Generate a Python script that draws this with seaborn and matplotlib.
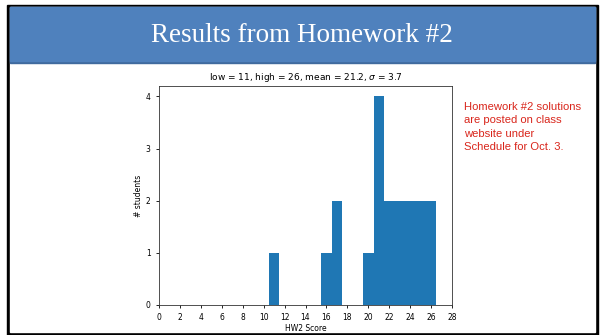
import matplotlib.pyplot as plt
from matplotlib.patches import Rectangle
import seaborn as sns

# HW2 scores, one per student
scores = [11, 16, 17, 17, 20, 21, 21, 21, 21, 22, 22, 23, 23, 24, 24, 25, 25, 26, 26]
title_text = "Results from Homework #2"
plot_title = r"low = 11, high = 26, mean = 21.2, $\sigma$ = 3.7"
note_lines = ["Homework #2 solutions", "are posted on class", "website under", "Schedule for Oct. 3."]
x_ticks = list(range(0, 29, 2))
y_ticks = [0, 1, 2, 3, 4]

W, H = 603, 335
fig = plt.figure(figsize=(W / 100, H / 100), dpi=100)
fig.patch.set_facecolor("white")

def px_rect(x0, y0, x1, y1, color):
    # rectangle given in pixel coords from top-left, kept behind the axes
    fig.patches.append(Rectangle((x0 / W, 1 - y1 / H), (x1 - x0) / W, (y1 - y0) / H,
                                 transform=fig.transFigure, color=color, zorder=-5))

# slide frame and header band
px_rect(7, 5, 598, 335, "black")
px_rect(10, 7, 595, 332, "white")
px_rect(10, 7, 595, 63, "#3f6a9e")
px_rect(10, 7, 595, 61, "#4f81bd")
fig.text(302 / W, 1 - 35 / H, title_text, color="white", fontsize=19.5,
         family="Liberation Serif", ha="center", va="center")

ax = fig.add_axes([159 / W, 1 - 305 / H, (452 - 159) / W, (305 - 86) / H])
sns.histplot(x=scores, discrete=True, color="#1f77b4", alpha=1, linewidth=0, ax=ax)
ax.set_xlim(0, 28)
ax.set_ylim(0, 4.2)
ax.set_xticks(x_ticks)
ax.set_yticks(y_ticks)
ax.tick_params(labelsize=5.5, length=2.5, width=0.6)
for s in ax.spines.values():
    s.set_linewidth(0.6)
    s.set_color("#333333")
ax.set_xlabel("HW2 Score", fontsize=5.5, labelpad=1)
ax.set_ylabel("# students", fontsize=5.5, labelpad=2)
ax.set_title(plot_title, fontsize=6.5, pad=4)

fig.text(464 / W, 1 - 102 / H, "\n".join(note_lines), color="#d9261c", fontsize=8.1,
         family="Liberation Sans", ha="left", va="top", linespacing=1.42)

fig.savefig("out.png", dpi=100)
